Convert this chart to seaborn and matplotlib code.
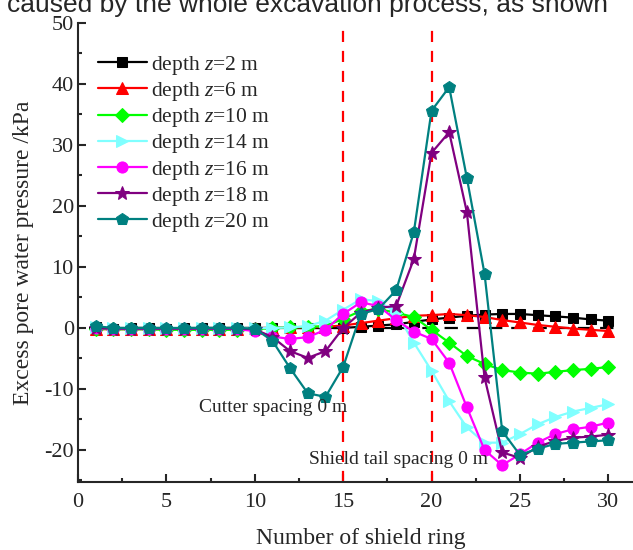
import numpy as np
import pandas as pd
import matplotlib
matplotlib.use("Agg")
import matplotlib.pyplot as plt
import seaborn as sns

rings = list(range(1, 31))

z2 = [0.1, -0.1, 0.0, 0.0, -0.1, 0.0, 0.0, 0.0, 0.0, 0.0, 0.0, 0.0, 0.0, 0.0, 0.0,
      0.2, 0.4, 0.6, 1.0, 1.4, 1.7, 2.0, 2.2, 2.3, 2.3, 2.1, 1.9, 1.7, 1.4, 1.2]
z6 = [-0.2, -0.2, -0.2, -0.2, -0.2, -0.2, -0.2, -0.2, -0.1, 0.0, 0.0, 0.1, 0.1, 0.2, 0.4,
      0.8, 1.2, 1.6, 2.0, 2.1, 2.3, 2.1, 1.8, 1.3, 0.9, 0.5, 0.2, -0.1, -0.3, -0.5]
z10 = [-0.1, -0.2, -0.2, -0.2, -0.3, -0.3, -0.3, -0.3, -0.3, -0.2, 0.0, 0.1, 0.2, 0.3, 1.5,
       2.8, 3.1, 2.5, 1.8, -0.3, -2.4, -4.6, -5.9, -6.9, -7.3, -7.5, -7.2, -6.9, -6.7, -6.4]
z14 = [0.1, 0.0, 0.0, 0.0, 0.0, 0.0, 0.0, 0.0, 0.0, 0.0, 0.0, 0.1, 0.3, 1.2, 3.0,
       4.7, 4.4, 2.5, -2.4, -7.0, -12.0, -16.3, -18.8, -18.8, -17.4, -15.8, -14.6, -13.7, -13.1, -12.5]
z16 = [0.0, -0.1, -0.1, -0.1, -0.1, -0.1, -0.1, -0.1, -0.2, -0.5, -1.4, -1.8, -1.5, -0.3, 2.3,
       4.2, 3.6, 1.3, -0.6, -1.8, -5.7, -13.0, -20.0, -22.5, -20.7, -18.8, -17.4, -16.6, -16.2, -15.5]
z18 = [0.0, -0.1, -0.1, -0.1, -0.1, -0.1, -0.1, -0.1, -0.1, -0.2, -1.5, -3.8, -4.9, -3.8, 0.0,
       2.5, 3.3, 3.6, 11.3, 28.7, 32.1, 19.0, -8.1, -20.4, -21.3, -19.5, -18.5, -18.0, -17.8, -17.5]
z20 = [0.3, 0.0, 0.0, 0.0, 0.0, 0.0, 0.0, 0.0, 0.0, -0.1, -2.1, -6.6, -10.7, -11.3, -6.4,
       2.3, 3.1, 6.2, 15.7, 35.6, 39.5, 24.6, 8.9, -16.9, -20.8, -19.8, -19.0, -18.8, -18.6, -18.4]

labels = ["depth $z$=2 m", "depth $z$=6 m", "depth $z$=10 m", "depth $z$=14 m",
          "depth $z$=16 m", "depth $z$=18 m", "depth $z$=20 m"]
series = [z2, z6, z10, z14, z16, z18, z20]
colors = ["#000000", "#FF0000", "#00FF00", "#80FFFF", "#FF00FF", "#800080", "#008080"]
markers = ["s", "^", "D", ">", "o", "*", "p"]
msizes = [7, 9, 7, 9, 8, 10, 9]

df = pd.DataFrame({
    "ring": np.tile(rings, len(series)),
    "pressure": np.concatenate(series),
    "depth": np.repeat(labels, len(rings)),
})

sns.set_style("ticks")
plt.rcParams["font.family"] = ["Liberation Serif", "DejaVu Serif"]
plt.rcParams["mathtext.fontset"] = "custom"
plt.rcParams["mathtext.it"] = "Liberation Serif:italic"
plt.rcParams["mathtext.rm"] = "Liberation Serif"
plt.rcParams["axes.unicode_minus"] = False

fig = plt.figure(figsize=(6.33, 5.5), dpi=100)
ax = fig.add_axes([78 / 633, 1 - 482 / 550, 1 - 78 / 633, (482 - 23) / 550])

for lab, col, mk, ms in zip(labels, colors, markers, msizes):
    sub = df[df["depth"] == lab]
    sns.lineplot(data=sub, x="ring", y="pressure", ax=ax, color=col, marker=mk,
                 markersize=ms, markeredgecolor=col, linewidth=1.6, label=lab)

ax.axhline(0, xmin=0.6 / 31.4, xmax=30.8 / 31.4, color="black", linestyle=(0, (6, 4)),
           linewidth=1.6, zorder=1)
for xv in [15, 20]:
    ax.axvline(xv, ymin=0, ymax=(49 + 25.25) / 75.25, color="#FF0000",
               linestyle=(0, (5, 4)), linewidth=1.6, zorder=1)

ax.text(11.05, -13.1, "Cutter spacing 0 m", fontsize=14, ha="center", va="center")
ax.text(18.15, -21.6, "Shield tail spacing 0 m", fontsize=14, ha="center", va="center")

ax.set_xlim(0, 31.4)
ax.set_ylim(-25.25, 50)
ax.set_xticks([0, 5, 10, 15, 20, 25, 30])
ax.set_xticks(np.arange(2.5, 31, 5), minor=True)
ax.set_yticks([-20, -10, 0, 10, 20, 30, 40, 50])
ax.set_yticks(np.arange(-25, 50, 10), minor=True)
ax.tick_params(axis="both", which="major", direction="in", length=6, width=1.5,
               labelsize=16)
ax.tick_params(axis="x", which="major", pad=8)
ax.tick_params(axis="y", which="major", pad=3)
ax.tick_params(axis="both", which="minor", direction="in", length=3, width=1.5)
for s in ["top", "right"]:
    ax.spines[s].set_visible(False)
for s in ["left", "bottom"]:
    ax.spines[s].set_linewidth(1.5)

ax.set_xlabel("Number of shield ring", fontsize=17)
ax.xaxis.set_label_coords(0.51, -0.1)
ax.set_ylabel("Excess pore water pressure /kPa", fontsize=17)
ax.yaxis.set_label_coords(-0.08, 0.5)

leg = ax.legend(loc="upper left", bbox_to_anchor=(0.021, 0.952), frameon=False,
                fontsize=15.5, handlelength=2.25, handletextpad=0.2, labelspacing=0.15,
                borderaxespad=0)

fig.text(608 / 633, 1 - 12 / 550, "caused by the whole excavation process, as shown",
         family="Liberation Sans", fontsize=19, ha="right", va="baseline")

fig.savefig("out.png", dpi=100)
